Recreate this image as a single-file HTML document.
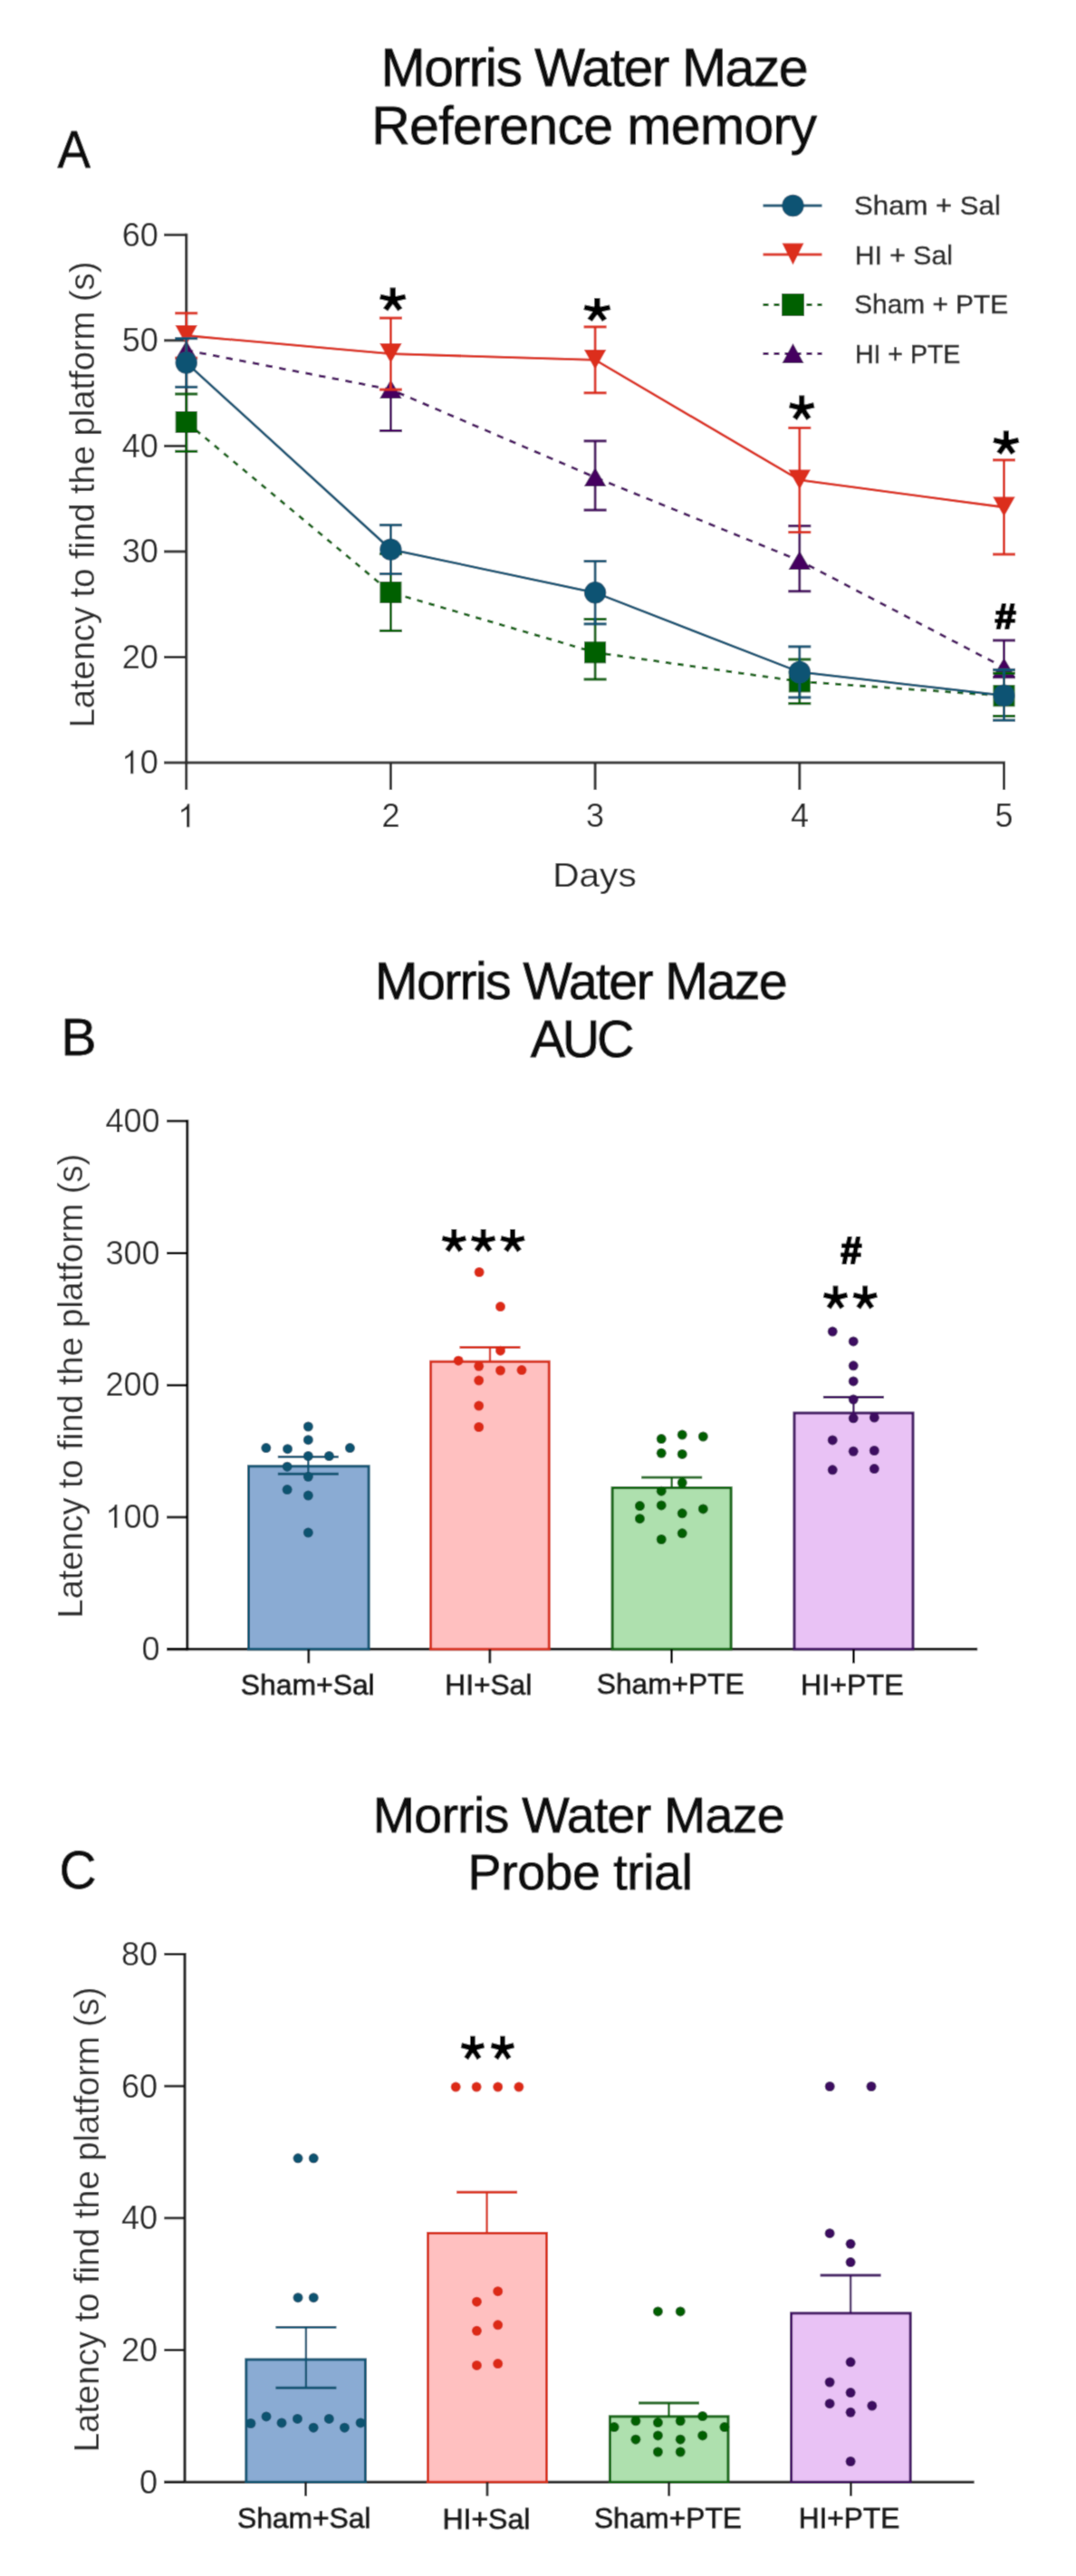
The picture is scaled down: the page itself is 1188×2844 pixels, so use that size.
<!DOCTYPE html>
<html><head><meta charset="utf-8"><title>Morris Water Maze</title>
<style>
html,body{margin:0;padding:0;background:#fff;}
svg{display:block;}
text{font-family:'Liberation Sans',sans-serif;}
</style></head>
<body>
<svg width="1188" height="2844" viewBox="0 0 1188 2844">
<defs><filter id="bl" x="0" y="0" width="1188" height="2844" filterUnits="userSpaceOnUse"><feConvolveMatrix order="3" kernelMatrix="0.02768 0.11101 0.02768 0.11101 0.44521 0.11101 0.02768 0.11101 0.02768" edgeMode="duplicate" preserveAlpha="false"/></filter></defs>
<g filter="url(#bl)">
<rect x="0" y="0" width="1188" height="2844" fill="#fff"/>
<text x="420.55" y="95.30" textLength="472.14" lengthAdjust="spacing" font-size="59" fill="#111" stroke="#111" stroke-width="1.0" stroke-linejoin="round">Morris Water Maze</text>
<text x="410.15" y="159.00" textLength="491.92" lengthAdjust="spacing" font-size="59" fill="#111" stroke="#111" stroke-width="1.0" stroke-linejoin="round">Reference memory</text>
<text transform="translate(63.56,185.20) scale(0.9412,0.9900)" font-size="58" fill="#111" stroke="#111" stroke-width="0.8" stroke-linejoin="round">A</text>
<line x1="205.70" y1="257.80" x2="205.70" y2="843.50" stroke="#2e2e2e" stroke-width="3.2"/>
<line x1="181.00" y1="842.00" x2="1110.00" y2="842.00" stroke="#2e2e2e" stroke-width="3.2"/>
<line x1="181.00" y1="259.30" x2="205.70" y2="259.30" stroke="#2e2e2e" stroke-width="3.0"/>
<line x1="181.00" y1="375.84" x2="205.70" y2="375.84" stroke="#2e2e2e" stroke-width="3.0"/>
<line x1="181.00" y1="492.38" x2="205.70" y2="492.38" stroke="#2e2e2e" stroke-width="3.0"/>
<line x1="181.00" y1="608.92" x2="205.70" y2="608.92" stroke="#2e2e2e" stroke-width="3.0"/>
<line x1="181.00" y1="725.46" x2="205.70" y2="725.46" stroke="#2e2e2e" stroke-width="3.0"/>
<line x1="205.70" y1="842.00" x2="205.70" y2="872.00" stroke="#2e2e2e" stroke-width="3.0"/>
<line x1="431.40" y1="842.00" x2="431.40" y2="872.00" stroke="#2e2e2e" stroke-width="3.0"/>
<line x1="657.10" y1="842.00" x2="657.10" y2="872.00" stroke="#2e2e2e" stroke-width="3.0"/>
<line x1="882.80" y1="842.00" x2="882.80" y2="872.00" stroke="#2e2e2e" stroke-width="3.0"/>
<line x1="1108.50" y1="842.00" x2="1108.50" y2="872.00" stroke="#2e2e2e" stroke-width="3.0"/>
<text transform="translate(134.80,271.60) scale(1.0000,1)" font-size="36" fill="#262626">60</text>
<text transform="translate(134.80,388.14) scale(1.0000,1)" font-size="36" fill="#262626">50</text>
<text transform="translate(134.80,504.68) scale(1.0000,1)" font-size="36" fill="#262626">40</text>
<text transform="translate(134.80,621.22) scale(1.0000,1)" font-size="36" fill="#262626">30</text>
<text transform="translate(134.80,737.76) scale(1.0000,1)" font-size="36" fill="#262626">20</text>
<text transform="translate(154.80,854.30) scale(1.0000,1)" font-size="36" fill="#262626">0</text>
<polygon points="144.12,854.30 147.28,854.30 147.28,828.52 144.94,828.52 144.19,830.72 142.35,832.27 140.55,833.82 138.10,834.97 138.10,838.03 139.80,837.24 141.49,836.30 142.96,835.22 144.12,834.14" fill="#262626"/>
<polygon points="206.12,913.30 209.28,913.30 209.28,887.52 206.94,887.52 206.19,889.72 204.35,891.27 202.55,892.82 200.10,893.97 200.10,897.03 201.80,896.24 203.49,895.30 204.96,894.22 206.12,893.14" fill="#222"/>
<text transform="translate(421.40,913.30) scale(1.0000,1)" font-size="36" fill="#222">2</text>
<text transform="translate(647.10,913.30) scale(1.0000,1)" font-size="36" fill="#222">3</text>
<text transform="translate(872.92,913.30) scale(1.0000,1)" font-size="36" fill="#222">4</text>
<text transform="translate(1098.50,913.30) scale(1.0000,1)" font-size="36" fill="#222">5</text>
<text transform="translate(610.22,978.50) scale(1.1280,1)" font-size="36" fill="#222">Days</text>
<text transform="translate(103.90,803.54) rotate(-90) scale(0.9957,1)" font-size="38.3" fill="#2a2a2a">Latency to find the platform (s)</text>
<polyline points="205.70,386.70 431.40,430.00 657.10,527.00 882.80,619.00 1108.50,737.00" fill="none" stroke="#44045f" stroke-width="2.8" stroke-dasharray="7.5 7.4"/>
<line x1="205.70" y1="386.70" x2="205.70" y2="386.70" stroke="#44045f" stroke-width="2.8"/>
<line x1="431.40" y1="430.00" x2="431.40" y2="475.60" stroke="#44045f" stroke-width="2.8"/>
<line x1="418.90" y1="475.60" x2="443.90" y2="475.60" stroke="#44045f" stroke-width="3.0"/>
<line x1="657.10" y1="486.90" x2="657.10" y2="563.10" stroke="#44045f" stroke-width="2.8"/>
<line x1="644.60" y1="486.90" x2="669.60" y2="486.90" stroke="#44045f" stroke-width="3.0"/>
<line x1="644.60" y1="563.10" x2="669.60" y2="563.10" stroke="#44045f" stroke-width="3.0"/>
<line x1="882.80" y1="580.70" x2="882.80" y2="652.80" stroke="#44045f" stroke-width="2.8"/>
<line x1="870.30" y1="580.70" x2="895.30" y2="580.70" stroke="#44045f" stroke-width="3.0"/>
<line x1="870.30" y1="652.80" x2="895.30" y2="652.80" stroke="#44045f" stroke-width="3.0"/>
<line x1="1108.50" y1="707.00" x2="1108.50" y2="747.70" stroke="#44045f" stroke-width="2.8"/>
<line x1="1096.00" y1="707.00" x2="1121.00" y2="707.00" stroke="#44045f" stroke-width="3.0"/>
<line x1="1096.00" y1="747.70" x2="1121.00" y2="747.70" stroke="#44045f" stroke-width="3.0"/>
<polygon points="193.45,396.70 217.95,396.70 205.70,375.70" fill="#44045f"/>
<polygon points="419.15,440.00 443.65,440.00 431.40,419.00" fill="#44045f"/>
<polygon points="644.85,537.00 669.35,537.00 657.10,516.00" fill="#44045f"/>
<polygon points="870.55,629.00 895.05,629.00 882.80,608.00" fill="#44045f"/>
<polygon points="1096.25,747.00 1120.75,747.00 1108.50,726.00" fill="#44045f"/>
<polyline points="205.70,370.50 431.40,390.60 657.10,397.40 882.80,530.00 1108.50,560.00" fill="none" stroke="#dc2e1b" stroke-width="2.8"/>
<line x1="205.70" y1="345.80" x2="205.70" y2="395.20" stroke="#dc2e1b" stroke-width="2.8"/>
<line x1="193.20" y1="345.80" x2="218.20" y2="345.80" stroke="#dc2e1b" stroke-width="3.0"/>
<line x1="193.20" y1="395.20" x2="218.20" y2="395.20" stroke="#dc2e1b" stroke-width="3.0"/>
<line x1="431.40" y1="351.10" x2="431.40" y2="430.10" stroke="#dc2e1b" stroke-width="2.8"/>
<line x1="418.90" y1="351.10" x2="443.90" y2="351.10" stroke="#dc2e1b" stroke-width="3.0"/>
<line x1="418.90" y1="430.10" x2="443.90" y2="430.10" stroke="#dc2e1b" stroke-width="3.0"/>
<line x1="657.10" y1="360.90" x2="657.10" y2="433.80" stroke="#dc2e1b" stroke-width="2.8"/>
<line x1="644.60" y1="360.90" x2="669.60" y2="360.90" stroke="#dc2e1b" stroke-width="3.0"/>
<line x1="644.60" y1="433.80" x2="669.60" y2="433.80" stroke="#dc2e1b" stroke-width="3.0"/>
<line x1="882.80" y1="472.40" x2="882.80" y2="587.60" stroke="#dc2e1b" stroke-width="2.8"/>
<line x1="870.30" y1="472.40" x2="895.30" y2="472.40" stroke="#dc2e1b" stroke-width="3.0"/>
<line x1="870.30" y1="587.60" x2="895.30" y2="587.60" stroke="#dc2e1b" stroke-width="3.0"/>
<line x1="1108.50" y1="507.90" x2="1108.50" y2="612.00" stroke="#dc2e1b" stroke-width="2.8"/>
<line x1="1096.00" y1="507.90" x2="1121.00" y2="507.90" stroke="#dc2e1b" stroke-width="3.0"/>
<line x1="1096.00" y1="612.00" x2="1121.00" y2="612.00" stroke="#dc2e1b" stroke-width="3.0"/>
<polygon points="193.45,359.00 217.95,359.00 205.70,381.00" fill="#dc2e1b"/>
<polygon points="419.15,379.10 443.65,379.10 431.40,401.10" fill="#dc2e1b"/>
<polygon points="644.85,385.90 669.35,385.90 657.10,407.90" fill="#dc2e1b"/>
<polygon points="870.55,518.50 895.05,518.50 882.80,540.50" fill="#dc2e1b"/>
<polygon points="1096.25,548.50 1120.75,548.50 1108.50,570.50" fill="#dc2e1b"/>
<polyline points="205.70,466.00 431.40,654.00 657.10,720.30 882.80,752.40 1108.50,768.20" fill="none" stroke="#026002" stroke-width="2.8" stroke-dasharray="6.5 7"/>
<line x1="205.70" y1="435.00" x2="205.70" y2="498.30" stroke="#026002" stroke-width="2.8"/>
<line x1="193.20" y1="435.00" x2="218.20" y2="435.00" stroke="#026002" stroke-width="3.0"/>
<line x1="193.20" y1="498.30" x2="218.20" y2="498.30" stroke="#026002" stroke-width="3.0"/>
<line x1="431.40" y1="611.60" x2="431.40" y2="696.40" stroke="#026002" stroke-width="2.8"/>
<line x1="418.90" y1="611.60" x2="443.90" y2="611.60" stroke="#026002" stroke-width="3.0"/>
<line x1="418.90" y1="696.40" x2="443.90" y2="696.40" stroke="#026002" stroke-width="3.0"/>
<line x1="657.10" y1="683.60" x2="657.10" y2="750.00" stroke="#026002" stroke-width="2.8"/>
<line x1="644.60" y1="683.60" x2="669.60" y2="683.60" stroke="#026002" stroke-width="3.0"/>
<line x1="644.60" y1="750.00" x2="669.60" y2="750.00" stroke="#026002" stroke-width="3.0"/>
<line x1="882.80" y1="728.00" x2="882.80" y2="776.70" stroke="#026002" stroke-width="2.8"/>
<line x1="870.30" y1="728.00" x2="895.30" y2="728.00" stroke="#026002" stroke-width="3.0"/>
<line x1="870.30" y1="776.70" x2="895.30" y2="776.70" stroke="#026002" stroke-width="3.0"/>
<line x1="1108.50" y1="743.20" x2="1108.50" y2="790.60" stroke="#026002" stroke-width="2.8"/>
<line x1="1096.00" y1="743.20" x2="1121.00" y2="743.20" stroke="#026002" stroke-width="3.0"/>
<line x1="1096.00" y1="790.60" x2="1121.00" y2="790.60" stroke="#026002" stroke-width="3.0"/>
<rect x="193.70" y="454.00" width="24.00" height="24.00" fill="#026002"/>
<rect x="419.40" y="642.00" width="24.00" height="24.00" fill="#026002"/>
<rect x="645.10" y="708.30" width="24.00" height="24.00" fill="#026002"/>
<rect x="870.80" y="740.40" width="24.00" height="24.00" fill="#026002"/>
<rect x="1096.50" y="756.20" width="24.00" height="24.00" fill="#026002"/>
<polyline points="205.70,400.50 431.40,606.60 657.10,654.30 882.80,742.00 1108.50,767.80" fill="none" stroke="#0d5373" stroke-width="2.8"/>
<line x1="205.70" y1="373.70" x2="205.70" y2="427.30" stroke="#0d5373" stroke-width="2.8"/>
<line x1="193.20" y1="373.70" x2="218.20" y2="373.70" stroke="#0d5373" stroke-width="3.0"/>
<line x1="193.20" y1="427.30" x2="218.20" y2="427.30" stroke="#0d5373" stroke-width="3.0"/>
<line x1="431.40" y1="579.70" x2="431.40" y2="633.60" stroke="#0d5373" stroke-width="2.8"/>
<line x1="418.90" y1="579.70" x2="443.90" y2="579.70" stroke="#0d5373" stroke-width="3.0"/>
<line x1="418.90" y1="633.60" x2="443.90" y2="633.60" stroke="#0d5373" stroke-width="3.0"/>
<line x1="657.10" y1="619.60" x2="657.10" y2="688.90" stroke="#0d5373" stroke-width="2.8"/>
<line x1="644.60" y1="619.60" x2="669.60" y2="619.60" stroke="#0d5373" stroke-width="3.0"/>
<line x1="644.60" y1="688.90" x2="669.60" y2="688.90" stroke="#0d5373" stroke-width="3.0"/>
<line x1="882.80" y1="713.90" x2="882.80" y2="770.00" stroke="#0d5373" stroke-width="2.8"/>
<line x1="870.30" y1="713.90" x2="895.30" y2="713.90" stroke="#0d5373" stroke-width="3.0"/>
<line x1="870.30" y1="770.00" x2="895.30" y2="770.00" stroke="#0d5373" stroke-width="3.0"/>
<line x1="1108.50" y1="739.40" x2="1108.50" y2="795.20" stroke="#0d5373" stroke-width="2.8"/>
<line x1="1096.00" y1="739.40" x2="1121.00" y2="739.40" stroke="#0d5373" stroke-width="3.0"/>
<line x1="1096.00" y1="795.20" x2="1121.00" y2="795.20" stroke="#0d5373" stroke-width="3.0"/>
<circle cx="205.70" cy="400.50" r="12.2" fill="#0d5373"/>
<circle cx="431.40" cy="606.60" r="12.2" fill="#0d5373"/>
<circle cx="657.10" cy="654.30" r="12.2" fill="#0d5373"/>
<circle cx="882.80" cy="742.00" r="12.2" fill="#0d5373"/>
<circle cx="1108.50" cy="767.80" r="12.2" fill="#0d5373"/>
<path d="M436.81,330.79 L436.81,317.50 L430.59,317.50 L430.59,330.79 Z M434.45,333.56 L448.50,330.34 L446.99,324.80 L432.95,328.02 Z M434.45,328.02 L420.41,324.80 L418.90,330.34 L432.95,333.56 Z M431.12,332.38 L439.22,343.40 L444.38,340.21 L436.28,329.19 Z M431.12,329.19 L423.02,340.21 L428.18,343.40 L436.28,332.38 Z " fill="#000"/>
<ellipse cx="433.70" cy="330.79" rx="5.21" ry="4.78" fill="#000"/>
<path d="M662.52,342.39 L662.52,329.10 L656.18,329.10 L656.18,342.39 Z M660.12,345.16 L674.40,341.94 L672.87,336.40 L658.58,339.62 Z M660.12,339.62 L645.83,336.40 L644.30,341.94 L658.58,345.16 Z M656.73,343.98 L664.96,355.00 L670.21,351.81 L661.97,340.79 Z M656.73,340.79 L648.49,351.81 L653.74,355.00 L661.97,343.98 Z " fill="#000"/>
<ellipse cx="659.35" cy="342.39" rx="5.30" ry="4.78" fill="#000"/>
<path d="M888.25,450.61 L888.25,436.60 L882.25,436.60 L882.25,450.61 Z M885.98,453.53 L899.50,450.14 L898.05,444.30 L884.52,447.68 Z M885.98,447.68 L872.45,444.30 L871.00,450.14 L884.52,453.53 Z M882.77,452.29 L890.56,463.90 L895.53,460.53 L887.73,448.92 Z M882.77,448.92 L874.97,460.53 L879.94,463.90 L887.73,452.29 Z " fill="#000"/>
<ellipse cx="885.25" cy="450.61" rx="5.02" ry="5.04" fill="#000"/>
<path d="M1113.91,489.14 L1113.91,475.60 L1107.79,475.60 L1107.79,489.14 Z M1111.59,491.97 L1125.40,488.69 L1123.92,483.04 L1110.11,486.32 Z M1111.59,486.32 L1097.78,483.04 L1096.30,488.69 L1110.11,491.97 Z M1108.31,490.77 L1116.27,502.00 L1121.35,498.74 L1113.39,487.52 Z M1108.31,487.52 L1100.35,498.74 L1105.43,502.00 L1113.39,490.77 Z " fill="#000"/>
<ellipse cx="1110.85" cy="489.14" rx="5.12" ry="4.88" fill="#000"/>
<text transform="translate(1098.57,694.40) scale(0.8381,0.7647)" font-size="50" font-weight="bold" fill="#000" stroke="#000" stroke-width="2.6" stroke-linejoin="round">#</text>
<line x1="842.50" y1="227.00" x2="907.50" y2="227.00" stroke="#0d5373" stroke-width="3"/>
<circle cx="875.50" cy="227.00" r="12.2" fill="#0d5373"/>
<line x1="842.50" y1="281.00" x2="907.50" y2="281.00" stroke="#dc2e1b" stroke-width="3"/>
<polygon points="863.50,268.50 887.50,268.50 875.50,292.50" fill="#dc2e1b"/>
<line x1="842.50" y1="336.50" x2="907.50" y2="336.50" stroke="#026002" stroke-width="3" stroke-dasharray="6 6"/>
<rect x="863.00" y="324.00" width="25.00" height="25.00" fill="#026002"/>
<line x1="842.50" y1="390.50" x2="907.50" y2="390.50" stroke="#44045f" stroke-width="3" stroke-dasharray="6 6"/>
<polygon points="863.50,401.00 887.50,401.00 875.50,379.00" fill="#44045f"/>
<text transform="translate(943.12,237.40) scale(1.0551,1)" font-size="29.5" fill="#2a2a2a" stroke="#2a2a2a" stroke-width="0.6" stroke-linejoin="round">Sham + Sal</text>
<text transform="translate(943.74,291.80) scale(1.0232,1)" font-size="29.5" fill="#2a2a2a" stroke="#2a2a2a" stroke-width="0.6" stroke-linejoin="round">HI + Sal</text>
<text transform="translate(943.18,346.20) scale(1.0121,1)" font-size="29.5" fill="#2a2a2a" stroke="#2a2a2a" stroke-width="0.6" stroke-linejoin="round">Sham + PTE</text>
<text transform="translate(943.88,400.60) scale(0.9670,1)" font-size="29.5" fill="#2a2a2a" stroke="#2a2a2a" stroke-width="0.6" stroke-linejoin="round">HI + PTE</text>
<text x="413.75" y="1102.50" textLength="455.83" lengthAdjust="spacing" font-size="57.4" fill="#111" stroke="#111" stroke-width="1.0" stroke-linejoin="round">Morris Water Maze</text>
<text x="585.75" y="1166.90" textLength="114.70" lengthAdjust="spacing" font-size="57.4" fill="#111" stroke="#111" stroke-width="1.0" stroke-linejoin="round">AUC</text>
<text transform="translate(67.17,1165.20) scale(1.0179,0.9900)" font-size="58" fill="#111" stroke="#111" stroke-width="0.8" stroke-linejoin="round">B</text>
<line x1="206.80" y1="1236.26" x2="206.80" y2="1822.30" stroke="#050505" stroke-width="3.0"/>
<line x1="184.00" y1="1820.80" x2="1079.20" y2="1820.80" stroke="#050505" stroke-width="3.0"/>
<line x1="184.00" y1="1820.80" x2="206.80" y2="1820.80" stroke="#050505" stroke-width="2.8"/>
<text transform="translate(156.40,1832.80) scale(1.0000,1)" font-size="36" fill="#262626">0</text>
<line x1="184.00" y1="1675.04" x2="206.80" y2="1675.04" stroke="#050505" stroke-width="2.8"/>
<text transform="translate(136.40,1686.74) scale(1.0000,1)" font-size="36" fill="#262626">00</text>
<polygon points="126.12,1686.74 129.28,1686.74 129.28,1660.96 126.94,1660.96 126.19,1663.16 124.35,1664.71 122.55,1666.26 120.10,1667.41 120.10,1670.47 121.80,1669.68 123.49,1668.74 124.96,1667.66 126.12,1666.58" fill="#262626"/>
<line x1="184.00" y1="1529.28" x2="206.80" y2="1529.28" stroke="#050505" stroke-width="2.8"/>
<text transform="translate(116.40,1541.28) scale(1.0000,1)" font-size="36" fill="#262626">200</text>
<line x1="184.00" y1="1383.52" x2="206.80" y2="1383.52" stroke="#050505" stroke-width="2.8"/>
<text transform="translate(116.40,1395.52) scale(1.0000,1)" font-size="36" fill="#262626">300</text>
<line x1="184.00" y1="1237.76" x2="206.80" y2="1237.76" stroke="#050505" stroke-width="2.8"/>
<text transform="translate(116.40,1249.76) scale(1.0000,1)" font-size="36" fill="#262626">400</text>
<text transform="translate(91.00,1786.42) rotate(-90) scale(0.9912,1)" font-size="38.3" fill="#2a2a2a">Latency to find the platform (s)</text>
<rect x="274.50" y="1618.80" width="132.60" height="202.00" fill="#8aabd3" stroke="#0f5573" stroke-width="3.0"/>
<rect x="475.60" y="1503.30" width="130.60" height="317.50" fill="#ffc0c0" stroke="#d8301d" stroke-width="3.0"/>
<rect x="676.10" y="1642.60" width="131.00" height="178.20" fill="#aee0ae" stroke="#0b650b" stroke-width="3.0"/>
<rect x="877.00" y="1560.00" width="131.00" height="260.80" fill="#e9c2f5" stroke="#3f0c62" stroke-width="3.0"/>
<line x1="340.80" y1="1820.80" x2="340.80" y2="1836.30" stroke="#050505" stroke-width="2.8"/>
<line x1="540.90" y1="1820.80" x2="540.90" y2="1836.30" stroke="#050505" stroke-width="2.8"/>
<line x1="741.60" y1="1820.80" x2="741.60" y2="1836.30" stroke="#050505" stroke-width="2.8"/>
<line x1="942.50" y1="1820.80" x2="942.50" y2="1836.30" stroke="#050505" stroke-width="2.8"/>
<text transform="translate(265.76,1870.60) scale(1.0282,1)" font-size="31" fill="#1a1a1a" stroke="#1a1a1a" stroke-width="1.0" stroke-linejoin="round">Sham+Sal</text>
<text transform="translate(491.24,1870.90) scale(1.0230,1)" font-size="31" fill="#1a1a1a" stroke="#1a1a1a" stroke-width="1.0" stroke-linejoin="round">HI+Sal</text>
<text transform="translate(658.77,1870.40) scale(1.0230,1)" font-size="31" fill="#1a1a1a" stroke="#1a1a1a" stroke-width="1.0" stroke-linejoin="round">Sham+PTE</text>
<text transform="translate(884.10,1871.10) scale(1.0389,1)" font-size="31" fill="#1a1a1a" stroke="#1a1a1a" stroke-width="1.0" stroke-linejoin="round">HI+PTE</text>
<line x1="340.30" y1="1608.40" x2="340.30" y2="1627.30" stroke="#0f5573" stroke-width="2.4"/>
<line x1="306.80" y1="1608.40" x2="373.80" y2="1608.40" stroke="#0f5573" stroke-width="2.9"/>
<line x1="306.80" y1="1627.30" x2="373.80" y2="1627.30" stroke="#0f5573" stroke-width="2.9"/>
<circle cx="340.30" cy="1575.00" r="5.5" fill="#0b5270"/>
<circle cx="340.30" cy="1589.70" r="5.5" fill="#0b5270"/>
<circle cx="293.80" cy="1598.60" r="5.5" fill="#0b5270"/>
<circle cx="317.50" cy="1599.70" r="5.5" fill="#0b5270"/>
<circle cx="386.40" cy="1598.60" r="5.5" fill="#0b5270"/>
<circle cx="340.30" cy="1607.50" r="5.5" fill="#0b5270"/>
<circle cx="363.40" cy="1607.50" r="5.5" fill="#0b5270"/>
<circle cx="317.10" cy="1619.20" r="5.5" fill="#0b5270"/>
<circle cx="340.30" cy="1630.30" r="5.5" fill="#0b5270"/>
<circle cx="317.10" cy="1644.60" r="5.5" fill="#0b5270"/>
<circle cx="340.30" cy="1651.10" r="5.5" fill="#0b5270"/>
<circle cx="340.30" cy="1692.10" r="5.5" fill="#0b5270"/>
<line x1="541.00" y1="1487.50" x2="541.00" y2="1503.30" stroke="#d8301d" stroke-width="2.4"/>
<line x1="507.50" y1="1487.50" x2="574.50" y2="1487.50" stroke="#d8301d" stroke-width="2.9"/>
<circle cx="529.10" cy="1404.50" r="5.5" fill="#dc2a14"/>
<circle cx="552.50" cy="1442.60" r="5.5" fill="#dc2a14"/>
<circle cx="552.50" cy="1491.20" r="5.5" fill="#dc2a14"/>
<circle cx="506.10" cy="1502.20" r="5.5" fill="#dc2a14"/>
<circle cx="528.70" cy="1508.30" r="5.5" fill="#dc2a14"/>
<circle cx="552.50" cy="1513.00" r="5.5" fill="#dc2a14"/>
<circle cx="576.00" cy="1512.60" r="5.5" fill="#dc2a14"/>
<circle cx="528.70" cy="1524.10" r="5.5" fill="#dc2a14"/>
<circle cx="528.70" cy="1552.10" r="5.5" fill="#dc2a14"/>
<circle cx="528.70" cy="1575.50" r="5.5" fill="#dc2a14"/>
<line x1="741.70" y1="1631.10" x2="741.70" y2="1642.60" stroke="#0b650b" stroke-width="2.4"/>
<line x1="708.20" y1="1631.10" x2="775.20" y2="1631.10" stroke="#0b650b" stroke-width="2.9"/>
<circle cx="730.20" cy="1588.60" r="5.5" fill="#005f00"/>
<circle cx="753.20" cy="1584.10" r="5.5" fill="#005f00"/>
<circle cx="776.30" cy="1586.00" r="5.5" fill="#005f00"/>
<circle cx="730.20" cy="1604.30" r="5.5" fill="#005f00"/>
<circle cx="753.20" cy="1605.40" r="5.5" fill="#005f00"/>
<circle cx="753.20" cy="1637.00" r="5.5" fill="#005f00"/>
<circle cx="730.20" cy="1646.20" r="5.5" fill="#005f00"/>
<circle cx="706.40" cy="1662.60" r="5.5" fill="#005f00"/>
<circle cx="730.20" cy="1661.90" r="5.5" fill="#005f00"/>
<circle cx="776.30" cy="1665.90" r="5.5" fill="#005f00"/>
<circle cx="753.20" cy="1670.80" r="5.5" fill="#005f00"/>
<circle cx="706.40" cy="1676.70" r="5.5" fill="#005f00"/>
<circle cx="753.20" cy="1692.80" r="5.5" fill="#005f00"/>
<circle cx="730.20" cy="1699.50" r="5.5" fill="#005f00"/>
<line x1="942.40" y1="1542.50" x2="942.40" y2="1560.00" stroke="#3f0c62" stroke-width="2.4"/>
<line x1="908.90" y1="1542.50" x2="975.90" y2="1542.50" stroke="#3f0c62" stroke-width="2.9"/>
<circle cx="919.20" cy="1470.10" r="5.5" fill="#3c0860"/>
<circle cx="942.20" cy="1480.90" r="5.5" fill="#3c0860"/>
<circle cx="942.20" cy="1507.80" r="5.5" fill="#3c0860"/>
<circle cx="942.20" cy="1524.90" r="5.5" fill="#3c0860"/>
<circle cx="942.20" cy="1545.00" r="5.5" fill="#3c0860"/>
<circle cx="942.20" cy="1565.80" r="5.5" fill="#3c0860"/>
<circle cx="965.30" cy="1565.10" r="5.5" fill="#3c0860"/>
<circle cx="919.20" cy="1589.90" r="5.5" fill="#3c0860"/>
<circle cx="942.20" cy="1602.30" r="5.5" fill="#3c0860"/>
<circle cx="965.30" cy="1601.50" r="5.5" fill="#3c0860"/>
<circle cx="919.20" cy="1622.80" r="5.5" fill="#3c0860"/>
<circle cx="965.30" cy="1621.60" r="5.5" fill="#3c0860"/>
<path d="M504.18,1370.13 L504.18,1357.10 L498.42,1357.10 L498.42,1370.13 Z M502.00,1372.85 L515.00,1369.70 L513.61,1364.26 L500.60,1367.41 Z M502.00,1367.41 L488.99,1364.26 L487.60,1369.70 L500.60,1372.85 Z M498.91,1371.70 L506.41,1382.50 L511.18,1379.37 L503.69,1368.56 Z M498.91,1368.56 L491.42,1379.37 L496.19,1382.50 L503.69,1371.70 Z " fill="#000"/>
<ellipse cx="501.30" cy="1370.13" rx="4.82" ry="4.69" fill="#000"/>
<path d="M536.48,1370.13 L536.48,1357.10 L530.72,1357.10 L530.72,1370.13 Z M534.30,1372.85 L547.30,1369.70 L545.91,1364.26 L532.90,1367.41 Z M534.30,1367.41 L521.29,1364.26 L519.90,1369.70 L532.90,1372.85 Z M531.21,1371.70 L538.71,1382.50 L543.48,1379.37 L535.99,1368.56 Z M531.21,1368.56 L523.72,1379.37 L528.49,1382.50 L535.99,1371.70 Z " fill="#000"/>
<ellipse cx="533.60" cy="1370.13" rx="4.82" ry="4.69" fill="#000"/>
<path d="M568.88,1370.13 L568.88,1357.10 L563.12,1357.10 L563.12,1370.13 Z M566.70,1372.85 L579.70,1369.70 L578.31,1364.26 L565.30,1367.41 Z M566.70,1367.41 L553.69,1364.26 L552.30,1369.70 L565.30,1372.85 Z M563.61,1371.70 L571.11,1382.50 L575.88,1379.37 L568.39,1368.56 Z M563.61,1368.56 L556.12,1379.37 L560.89,1382.50 L568.39,1371.70 Z " fill="#000"/>
<ellipse cx="566.00" cy="1370.13" rx="4.82" ry="4.69" fill="#000"/>
<path d="M925.38,1432.84 L925.38,1419.40 L919.62,1419.40 L919.62,1432.84 Z M923.20,1435.64 L936.20,1432.39 L934.81,1426.79 L921.80,1430.04 Z M923.20,1430.04 L910.19,1426.79 L908.80,1432.39 L921.80,1435.64 Z M920.11,1434.46 L927.61,1445.60 L932.38,1442.37 L924.89,1431.23 Z M920.11,1431.23 L912.62,1442.37 L917.39,1445.60 L924.89,1434.46 Z " fill="#000"/>
<ellipse cx="922.50" cy="1432.84" rx="4.82" ry="4.84" fill="#000"/>
<path d="M958.08,1432.84 L958.08,1419.40 L952.32,1419.40 L952.32,1432.84 Z M955.90,1435.64 L968.90,1432.39 L967.51,1426.79 L954.50,1430.04 Z M955.90,1430.04 L942.89,1426.79 L941.50,1432.39 L954.50,1435.64 Z M952.81,1434.46 L960.31,1445.60 L965.08,1442.37 L957.59,1431.23 Z M952.81,1431.23 L945.32,1442.37 L950.09,1445.60 L957.59,1434.46 Z " fill="#000"/>
<ellipse cx="955.20" cy="1432.84" rx="4.82" ry="4.84" fill="#000"/>
<text transform="translate(928.37,1394.70) scale(0.8343,0.8588)" font-size="50" font-weight="bold" fill="#000" stroke="#000" stroke-width="2.6" stroke-linejoin="round">#</text>
<text x="411.80" y="2022.50" textLength="454.80" lengthAdjust="spacing" font-size="55.5" fill="#111" stroke="#111" stroke-width="1.0" stroke-linejoin="round">Morris Water Maze</text>
<text x="516.60" y="2086.40" textLength="248.25" lengthAdjust="spacing" font-size="55.5" fill="#111" stroke="#111" stroke-width="1.0" stroke-linejoin="round">Probe trial</text>
<text transform="translate(65.47,2084.60) scale(0.9781,1.0098)" font-size="58" fill="#111" stroke="#111" stroke-width="0.8" stroke-linejoin="round">C</text>
<line x1="204.00" y1="2155.92" x2="204.00" y2="2741.80" stroke="#111" stroke-width="3.0"/>
<line x1="181.30" y1="2740.30" x2="1075.60" y2="2740.30" stroke="#2a2a2a" stroke-width="3.2"/>
<line x1="181.30" y1="2740.30" x2="204.00" y2="2740.30" stroke="#1e1e1e" stroke-width="2.8"/>
<text transform="translate(154.00,2752.70) scale(1.0000,1)" font-size="36" fill="#262626">0</text>
<line x1="181.30" y1="2594.58" x2="204.00" y2="2594.58" stroke="#1e1e1e" stroke-width="2.8"/>
<text transform="translate(134.00,2606.98) scale(1.0000,1)" font-size="36" fill="#262626">20</text>
<line x1="181.30" y1="2448.86" x2="204.00" y2="2448.86" stroke="#1e1e1e" stroke-width="2.8"/>
<text transform="translate(134.00,2461.26) scale(1.0000,1)" font-size="36" fill="#262626">40</text>
<line x1="181.30" y1="2303.14" x2="204.00" y2="2303.14" stroke="#1e1e1e" stroke-width="2.8"/>
<text transform="translate(134.00,2315.54) scale(1.0000,1)" font-size="36" fill="#262626">60</text>
<line x1="181.30" y1="2157.42" x2="204.00" y2="2157.42" stroke="#1e1e1e" stroke-width="2.8"/>
<text transform="translate(134.00,2169.82) scale(1.0000,1)" font-size="36" fill="#262626">80</text>
<text transform="translate(109.10,2707.13) rotate(-90) scale(0.9933,1)" font-size="38.3" fill="#2a2a2a">Latency to find the platform (s)</text>
<rect x="271.80" y="2605.00" width="131.60" height="135.30" fill="#8aabd3" stroke="#0f5573" stroke-width="3.0"/>
<rect x="472.50" y="2465.50" width="131.00" height="274.80" fill="#ffc0c0" stroke="#d8301d" stroke-width="3.0"/>
<rect x="673.40" y="2667.90" width="130.60" height="72.40" fill="#aee0ae" stroke="#0b650b" stroke-width="3.0"/>
<rect x="873.60" y="2553.90" width="131.60" height="186.40" fill="#e9c2f5" stroke="#3f0c62" stroke-width="3.0"/>
<line x1="337.60" y1="2740.30" x2="337.60" y2="2755.70" stroke="#222" stroke-width="2.8"/>
<line x1="538.00" y1="2740.30" x2="538.00" y2="2755.70" stroke="#222" stroke-width="2.8"/>
<line x1="738.70" y1="2740.30" x2="738.70" y2="2755.70" stroke="#222" stroke-width="2.8"/>
<line x1="939.40" y1="2740.30" x2="939.40" y2="2755.70" stroke="#222" stroke-width="2.8"/>
<text transform="translate(261.96,2790.50) scale(1.0253,1)" font-size="31" fill="#1a1a1a" stroke="#1a1a1a" stroke-width="1.0" stroke-linejoin="round">Sham+Sal</text>
<text transform="translate(488.42,2792.40) scale(1.0331,1)" font-size="31" fill="#1a1a1a" stroke="#1a1a1a" stroke-width="1.0" stroke-linejoin="round">HI+Sal</text>
<text transform="translate(655.97,2791.00) scale(1.0230,1)" font-size="31" fill="#1a1a1a" stroke="#1a1a1a" stroke-width="1.0" stroke-linejoin="round">Sham+PTE</text>
<text transform="translate(881.75,2790.50) scale(1.0199,1)" font-size="31" fill="#1a1a1a" stroke="#1a1a1a" stroke-width="1.0" stroke-linejoin="round">HI+PTE</text>
<line x1="337.90" y1="2569.40" x2="337.90" y2="2636.30" stroke="#0f5573" stroke-width="2.4"/>
<line x1="304.40" y1="2569.40" x2="371.40" y2="2569.40" stroke="#0f5573" stroke-width="2.9"/>
<line x1="304.40" y1="2636.30" x2="371.40" y2="2636.30" stroke="#0f5573" stroke-width="2.9"/>
<circle cx="329.00" cy="2382.80" r="5.5" fill="#0b5270"/>
<circle cx="346.20" cy="2382.80" r="5.5" fill="#0b5270"/>
<circle cx="329.00" cy="2536.70" r="5.5" fill="#0b5270"/>
<circle cx="346.20" cy="2536.70" r="5.5" fill="#0b5270"/>
<circle cx="276.90" cy="2675.50" r="5.5" fill="#0b5270"/>
<circle cx="294.00" cy="2667.90" r="5.5" fill="#0b5270"/>
<circle cx="311.00" cy="2674.90" r="5.5" fill="#0b5270"/>
<circle cx="328.40" cy="2670.40" r="5.5" fill="#0b5270"/>
<circle cx="346.10" cy="2680.20" r="5.5" fill="#0b5270"/>
<circle cx="363.30" cy="2670.40" r="5.5" fill="#0b5270"/>
<circle cx="380.40" cy="2680.20" r="5.5" fill="#0b5270"/>
<circle cx="398.10" cy="2674.90" r="5.5" fill="#0b5270"/>
<line x1="537.60" y1="2420.30" x2="537.60" y2="2465.50" stroke="#d8301d" stroke-width="2.4"/>
<line x1="504.10" y1="2420.30" x2="571.10" y2="2420.30" stroke="#d8301d" stroke-width="2.9"/>
<circle cx="503.20" cy="2304.10" r="5.5" fill="#dc2a14"/>
<circle cx="526.10" cy="2304.10" r="5.5" fill="#dc2a14"/>
<circle cx="549.70" cy="2304.10" r="5.5" fill="#dc2a14"/>
<circle cx="572.90" cy="2304.10" r="5.5" fill="#dc2a14"/>
<circle cx="549.70" cy="2529.70" r="5.5" fill="#dc2a14"/>
<circle cx="526.40" cy="2541.20" r="5.5" fill="#dc2a14"/>
<circle cx="549.70" cy="2566.80" r="5.5" fill="#dc2a14"/>
<circle cx="526.40" cy="2573.30" r="5.5" fill="#dc2a14"/>
<circle cx="526.40" cy="2611.40" r="5.5" fill="#dc2a14"/>
<circle cx="549.70" cy="2609.60" r="5.5" fill="#dc2a14"/>
<line x1="738.50" y1="2653.00" x2="738.50" y2="2667.90" stroke="#0b650b" stroke-width="2.4"/>
<line x1="705.00" y1="2653.00" x2="772.00" y2="2653.00" stroke="#0b650b" stroke-width="2.9"/>
<circle cx="726.40" cy="2551.90" r="5.5" fill="#005f00"/>
<circle cx="751.20" cy="2551.90" r="5.5" fill="#005f00"/>
<circle cx="678.10" cy="2679.60" r="5.5" fill="#005f00"/>
<circle cx="701.90" cy="2672.80" r="5.5" fill="#005f00"/>
<circle cx="726.40" cy="2674.60" r="5.5" fill="#005f00"/>
<circle cx="751.20" cy="2672.80" r="5.5" fill="#005f00"/>
<circle cx="775.70" cy="2667.50" r="5.5" fill="#005f00"/>
<circle cx="799.90" cy="2679.60" r="5.5" fill="#005f00"/>
<circle cx="701.90" cy="2693.20" r="5.5" fill="#005f00"/>
<circle cx="726.40" cy="2688.90" r="5.5" fill="#005f00"/>
<circle cx="751.20" cy="2693.20" r="5.5" fill="#005f00"/>
<circle cx="775.70" cy="2688.90" r="5.5" fill="#005f00"/>
<circle cx="726.40" cy="2707.00" r="5.5" fill="#005f00"/>
<circle cx="751.20" cy="2707.00" r="5.5" fill="#005f00"/>
<line x1="939.10" y1="2512.00" x2="939.10" y2="2553.90" stroke="#3f0c62" stroke-width="2.4"/>
<line x1="905.60" y1="2512.00" x2="972.60" y2="2512.00" stroke="#3f0c62" stroke-width="2.9"/>
<circle cx="916.20" cy="2303.50" r="5.5" fill="#3c0860"/>
<circle cx="962.00" cy="2303.50" r="5.5" fill="#3c0860"/>
<circle cx="916.10" cy="2465.70" r="5.5" fill="#3c0860"/>
<circle cx="939.10" cy="2477.30" r="5.5" fill="#3c0860"/>
<circle cx="939.10" cy="2497.60" r="5.5" fill="#3c0860"/>
<circle cx="939.10" cy="2607.80" r="5.5" fill="#3c0860"/>
<circle cx="916.10" cy="2630.00" r="5.5" fill="#3c0860"/>
<circle cx="939.10" cy="2641.60" r="5.5" fill="#3c0860"/>
<circle cx="916.10" cy="2653.70" r="5.5" fill="#3c0860"/>
<circle cx="962.80" cy="2656.10" r="5.5" fill="#3c0860"/>
<circle cx="939.10" cy="2663.30" r="5.5" fill="#3c0860"/>
<circle cx="939.10" cy="2717.50" r="5.5" fill="#3c0860"/>
<path d="M524.68,2261.35 L524.68,2247.70 L519.12,2247.70 L519.12,2261.35 Z M522.57,2264.19 L535.10,2260.89 L533.76,2255.20 L521.23,2258.50 Z M522.57,2258.50 L510.04,2255.20 L508.70,2260.89 L521.23,2264.19 Z M519.60,2262.99 L526.82,2274.30 L531.42,2271.02 L524.20,2259.71 Z M519.60,2259.71 L512.38,2271.02 L516.98,2274.30 L524.20,2262.99 Z " fill="#000"/>
<ellipse cx="521.90" cy="2261.35" rx="4.65" ry="4.91" fill="#000"/>
<path d="M557.68,2261.35 L557.68,2247.70 L552.12,2247.70 L552.12,2261.35 Z M555.57,2264.19 L568.10,2260.89 L566.76,2255.20 L554.23,2258.50 Z M555.57,2258.50 L543.04,2255.20 L541.70,2260.89 L554.23,2264.19 Z M552.60,2262.99 L559.82,2274.30 L564.42,2271.02 L557.20,2259.71 Z M552.60,2259.71 L545.38,2271.02 L549.98,2274.30 L557.20,2262.99 Z " fill="#000"/>
<ellipse cx="554.90" cy="2261.35" rx="4.65" ry="4.91" fill="#000"/>
</g>
</svg>
</body></html>
